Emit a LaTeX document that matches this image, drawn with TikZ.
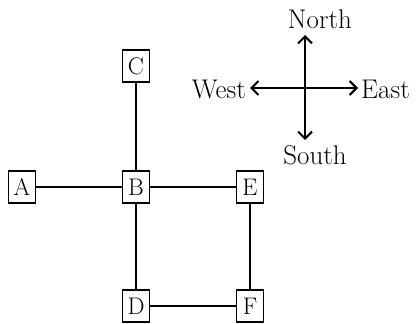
\documentclass[tikz,border=0pt]{standalone}
\usetikzlibrary{arrows.meta}
\begin{document}
\begin{tikzpicture}[x=1pt,y=-1pt,
  lbox/.style={draw,line width=1.7pt,minimum width=27pt,minimum height=32pt,inner sep=0pt,font=\fontsize{24}{27}\selectfont},
  link/.style={line width=1.7pt},
  dir/.style={font=\fontsize{27}{30}\selectfont,inner sep=0pt},
  arr/.style={line width=1.7pt,-{Straight Barb[length=7pt,width=14pt,line width=2pt]}}]
\useasboundingbox (0,0) rectangle (419,323);
\node[lbox] (C) at (136,66) {C};
\node[lbox] (B) at (136,187) {B};
\node[lbox] (A) at (22,187) {A};
\node[lbox] (E) at (250,187) {E};
\node[lbox] (D) at (136,306) {D};
\node[lbox] (F) at (250,306) {F};
\draw[link] (A) -- (B);
\draw[link] (C) -- (B);
\draw[link] (B) -- (E);
\draw[link] (B) -- (D);
\draw[link] (E) -- (F);
\draw[link] (D) -- (F);
\coordinate (o) at (305,88);
\coordinate (tn) at (305,35);
\coordinate (ts) at (305,140);
\coordinate (tw) at (250,88);
\coordinate (te) at (358,88);
\draw[arr] (o) -- (tn);
\draw[arr] (o) -- (ts);
\draw[arr] (o) -- (tw);
\draw[arr] (o) -- (te);
\node[dir] (north) at (320,19) {North};
\node[dir] (south) at (315,155) {South};
\node[dir,anchor=east] (west) at (246,89) {West};
\node[dir,anchor=west] (east) at (361,89) {East};
\end{tikzpicture}
\end{document}
